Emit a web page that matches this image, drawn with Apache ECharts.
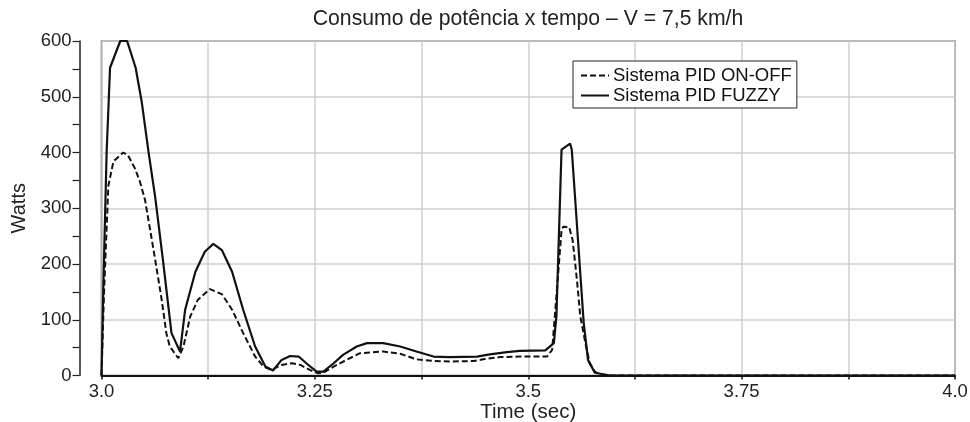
<!DOCTYPE html>
<html>
<head>
<meta charset="utf-8">
<script src="https://cdn.jsdelivr.net/npm/echarts@6/dist/echarts.min.js"></script>
<style>
html,body{margin:0;padding:0;background:#fff;}
#chart{width:970px;height:422px;}
</style>
</head>
<body>
<div id="chart"></div>
<script>
// ---- data ----
const titleText = 'Consumo de potência x tempo – V = 7,5 km/h';
const seriesNames = ['Sistema PID ON-OFF', 'Sistema PID FUZZY'];
const xTickLabels = ['3.0', '3.25', '3.5', '3.75', '4.0'];
const yTickLabels = ['0', '100', '200', '300', '400', '500', '600'];

const timeOnOff = [3.000, 3.003, 3.008, 3.014, 3.0255, 3.031, 3.039, 3.045, 3.051, 3.063, 3.0705, 3.076, 3.080, 3.090, 3.096, 3.104, 3.113, 3.127, 3.141, 3.153, 3.166, 3.180, 3.190, 3.199, 3.211, 3.223, 3.233, 3.244, 3.254, 3.260, 3.272, 3.287, 3.303, 3.311, 3.330, 3.350, 3.369, 3.389, 3.408, 3.436, 3.447, 3.467, 3.490, 3.522, 3.528, 3.533, 3.539, 3.541, 3.548, 3.552, 3.557, 3.561, 3.567, 3.572, 3.578, 3.584, 3.596, 4.000];
const wattsOnOff = [0, 150, 340, 384, 400, 395, 372, 348, 315, 207, 136, 76, 52, 31, 52, 106, 136, 155, 146, 118, 76, 34, 16, 10, 19, 22, 19, 10, 4, 5, 16, 28, 40, 41, 43, 39, 29, 26, 25, 26, 29, 33, 34, 34, 46, 142, 261, 267, 266, 243, 172, 106, 58, 22, 7, 2, 0, 0];

const timeFuzzy = [3.000, 3.002, 3.006, 3.010, 3.022, 3.030, 3.040, 3.047, 3.055, 3.063, 3.072, 3.082, 3.092, 3.098, 3.110, 3.121, 3.131, 3.141, 3.153, 3.166, 3.180, 3.192, 3.201, 3.211, 3.221, 3.231, 3.240, 3.252, 3.260, 3.272, 3.283, 3.299, 3.311, 3.330, 3.350, 3.369, 3.389, 3.408, 3.440, 3.455, 3.475, 3.490, 3.520, 3.530, 3.533, 3.539, 3.549, 3.551, 3.565, 3.570, 3.578, 3.596, 4.000];
const wattsFuzzy = [0, 150, 400, 552, 600, 600, 552, 492, 402, 319, 207, 76, 43, 118, 186, 222, 236, 225, 186, 118, 52, 16, 9, 28, 35, 34, 22, 7, 7, 22, 37, 52, 58, 58, 52, 43, 34, 33, 34, 38, 42, 44, 45, 58, 106, 405, 416, 405, 94, 28, 5, 0, 0];

// ---- chart ----
const pairs = (xs, ys) => xs.map((x, i) => [x, ys[i]]);
const FONT = "'Liberation Sans', Arial, Helvetica, sans-serif";
const chart = echarts.init(document.getElementById('chart'), null, {renderer: 'canvas'});

chart.setOption({
  animation: false,
  backgroundColor: '#ffffff',
  textStyle: {fontFamily: FONT, color: '#222'},
  title: {
    text: titleText,
    left: 523,
    textAlign: 'center',
    top: 4,
    textStyle: {fontFamily: FONT, fontSize: 21.2, fontWeight: 'normal', color: '#222'}
  },
  legend: {
    orient: 'vertical',
    left: 573,
    top: 61,
    padding: [5, 5, 3, 7],
    itemWidth: 28,
    itemHeight: 14,
    itemGap: 1,
    backgroundColor: '#ffffff',
    borderColor: '#222',
    borderWidth: 1,
    borderRadius: 0,
    itemStyle: {opacity: 0},
    textStyle: {fontFamily: FONT, fontSize: 18.5, color: '#111', padding: [0, 0, 0, -1], lineHeight: 19},
    data: seriesNames
  },
  grid: {
    left: 101.5, right: 15, top: 41, bottom: 46.5,
    outerBoundsMode: 'none',
    containLabel: false,
    show: true, borderColor: '#555', borderWidth: 1.5, backgroundColor: '#fff'
  },
  xAxis: {
    type: 'value',
    min: 3, max: 4, interval: 0.125,
    name: 'Time (sec)',
    nameLocation: 'middle',
    nameGap: 26,
    nameMoveOverlap: false,
    nameTextStyle: {fontFamily: FONT, fontSize: 20.5, color: '#222', verticalAlign: 'top'},
    axisLine: {show: true, onZero: false, lineStyle: {color: '#111', width: 2}},
    axisTick: {show: true, inside: false, length: 4, lineStyle: {color: '#111', width: 1.5}},
    axisLabel: {
      margin: 7, fontFamily: FONT, fontSize: 18.5, color: '#222',
      showMinLabel: true, showMaxLabel: true,
      formatter: v => {
        const q = Math.round((v - 3) * 8);
        return q % 2 === 0 ? xTickLabels[q / 2] : '';
      }
    },
    splitLine: {show: true, lineStyle: {color: '#cfcfcf', width: 1.5}}
  },
  yAxis: {
    type: 'value',
    min: 0, max: 600, interval: 100,
    offset: 22,
    name: 'Watts',
    nameLocation: 'middle',
    nameGap: 50,
    nameMoveOverlap: false,
    nameTextStyle: {fontFamily: FONT, fontSize: 20, color: '#222'},
    axisLine: {show: true, lineStyle: {color: '#222', width: 1.5}},
    axisTick: {show: true, inside: false, length: 7, lineStyle: {color: '#222', width: 1.2}},
    minorTick: {show: true, splitNumber: 2, length: 7, lineStyle: {color: '#222', width: 1.2}},
    axisLabel: {
      margin: 8, fontFamily: FONT, fontSize: 18.5, color: '#222',
      showMinLabel: true, showMaxLabel: true,
      formatter: v => yTickLabels[Math.round(v / 100)]
    },
    splitLine: {show: true, lineStyle: {color: '#cfcfcf', width: 1.5}}
  },
  series: [
    {
      name: seriesNames[0],
      type: 'line',
      data: pairs(timeOnOff, wattsOnOff),
      symbol: 'none',
      smooth: false,
      lineStyle: {color: '#111', width: 2, type: [6, 3]},
      itemStyle: {color: '#111'},
      z: 3
    },
    {
      name: seriesNames[1],
      type: 'line',
      data: pairs(timeFuzzy, wattsFuzzy),
      symbol: 'none',
      smooth: false,
      lineStyle: {color: '#111', width: 2.2, type: 'solid'},
      itemStyle: {color: '#111'},
      z: 4
    }
  ]
});
</script>
</body>
</html>
